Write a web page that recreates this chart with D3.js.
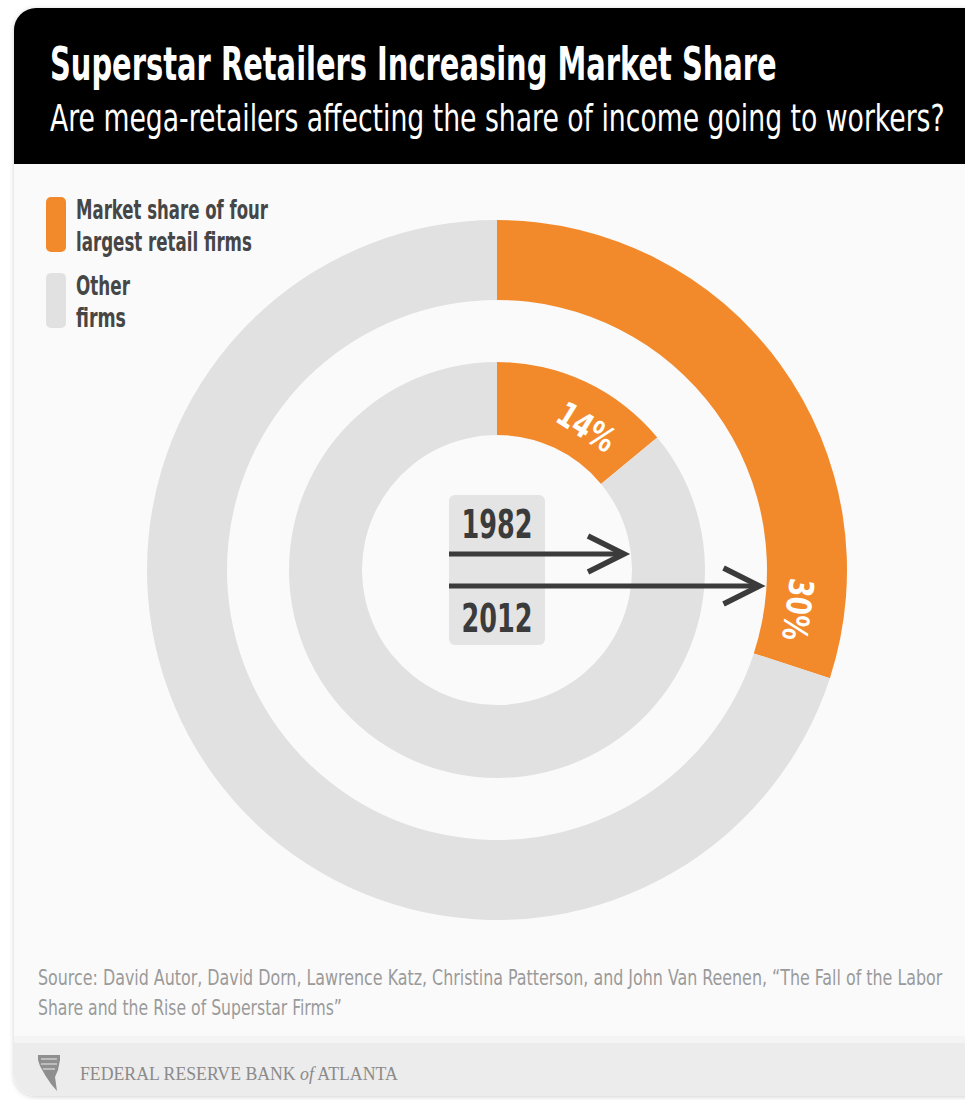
<!DOCTYPE html>
<html>
<head>
<meta charset="utf-8">
<script src="https://cdn.jsdelivr.net/npm/d3@7"></script>
<style>
  html, body { margin: 0; padding: 0; background: #ffffff; }
  svg { display: block; }
</style>
</head>
<body>
<div id="chart"></div>
<script>
// ---------------- DATA ----------------
const title = "Superstar Retailers Increasing Market Share";
const subtitle = "Are mega-retailers affecting the share of income going to workers?";
const years = ["1982", "2012"];
const topFourShare = [14, 30];          // % market share of four largest retail firms
const otherShare = [86, 70];            // % other firms
const categories = ["Market share of four largest retail firms", "Other firms"];
const legendLines = [["Market share of four", "largest retail firms"], ["Other", "firms"]];
const sourceLines = [
  "Source: David Autor, David Dorn, Lawrence Katz, Christina Patterson, and John Van Reenen, \u201cThe Fall of the Labor",
  "Share and the Rise of Superstar Firms\u201d"
];
const footerText = ["FEDERAL RESERVE BANK ", "of", " ATLANTA"];

// ---------------- LAYOUT ----------------
const W = 965, H = 1100;
const cx = 497, cy = 570;
const rings = [ {inner: 135, outer: 208}, {inner: 270, outer: 350} ];
const colors = d3.scaleOrdinal().domain(categories).range(["#f28a2b", "#e1e1e1"]);
const condensed = "'Liberation Sans Narrow', 'DejaVu Sans Condensed', 'Roboto Condensed', sans-serif";

const svg = d3.select("#chart").append("svg").attr("width", W).attr("height", H);

// horizontally squeeze a text so that it spans `width` px (condensed look)
function fit(sel, x, y, width, anchor) {
  sel.attr("x", 0).attr("y", 0).attr("text-anchor", anchor || "start");
  const natural = sel.node().getComputedTextLength();
  const s = width / natural;
  sel.attr("transform", `translate(${x},${y}) scale(${s},1)`);
  return sel;
}

// card shadow + card
const defs = svg.append("defs");
const f = defs.append("filter").attr("id", "sh").attr("x", "-5%").attr("y", "-5%").attr("width", "110%").attr("height", "110%");
f.append("feDropShadow").attr("dx", 0).attr("dy", 1).attr("stdDeviation", 2.5).attr("flood-color", "#000").attr("flood-opacity", 0.18);

const cardX = 14, cardY = 8, cardR = 22, cardRight = 990, cardBottom = 1096;
svg.append("rect").attr("x", cardX).attr("y", cardY).attr("width", cardRight - cardX).attr("height", cardBottom - cardY)
  .attr("rx", cardR).attr("fill", "#fafafa").attr("filter", "url(#sh)");

defs.append("clipPath").attr("id", "cardClip").append("rect")
  .attr("x", cardX).attr("y", cardY).attr("width", cardRight - cardX).attr("height", cardBottom - cardY).attr("rx", cardR);
const clipped = svg.append("g").attr("clip-path", "url(#cardClip)");
clipped.append("rect").attr("x", cardX).attr("y", 1043).attr("width", cardRight - cardX).attr("height", cardBottom - 1043).attr("fill", "#ececec");
clipped.append("rect").attr("x", cardX).attr("y", 1036).attr("width", cardRight - cardX).attr("height", 7).attr("fill", "#f4f4f4");
clipped.append("rect").attr("x", cardX).attr("y", cardY).attr("width", cardRight - cardX).attr("height", 164 - cardY).attr("fill", "#000");

// titles
fit(svg.append("text").text(title)
  .attr("fill", "#fff").attr("font-family", condensed).attr("font-weight", "bold").attr("font-size", 46),
  50, 80, 727);
fit(svg.append("text").text(subtitle)
  .attr("fill", "#fff").attr("font-family", condensed).attr("font-size", 37),
  50, 131, 895);

// ---------------- RINGS ----------------
const pie = d3.pie().sort(null).value(d => d.value);
const g = svg.append("g").attr("transform", `translate(${cx},${cy})`);
const labelAngles = [32, 97.5];   // degrees clockwise from 12 o'clock, where each % label sits
const labelRadius = [169, 304];

years.forEach((yr, i) => {
  const data = [
    {cat: categories[0], value: topFourShare[i]},
    {cat: categories[1], value: otherShare[i]}
  ];
  const arc = d3.arc().innerRadius(rings[i].inner).outerRadius(rings[i].outer);
  const arcs = pie(data);
  g.selectAll(null).data(arcs).enter().append("path")
    .attr("d", arc).attr("fill", d => colors(d.data.cat));

  const ang = labelAngles[i] * Math.PI / 180;
  const r = labelRadius[i];
  const lx = r * Math.sin(ang), ly = -r * Math.cos(ang);
  g.append("text")
    .attr("transform", `translate(${lx},${ly}) rotate(${labelAngles[i]}) scale(0.85,1)`)
    .attr("text-anchor", "middle").attr("dy", "0.36em")
    .attr("fill", "#fff").attr("font-family", condensed).attr("font-weight", "bold")
    .attr("font-size", 34)
    .text(topFourShare[i] + "%");
});

// ---------------- CENTER LABELS + ARROWS ----------------
svg.append("rect").attr("x", 449).attr("y", 495).attr("width", 96).attr("height", 150).attr("rx", 6).attr("fill", "#e4e4e4");
fit(svg.append("text").text(years[0])
  .attr("fill", "#3b3b3b").attr("font-family", condensed).attr("font-weight", "bold").attr("font-size", 39),
  497, 538, 71, "middle");
fit(svg.append("text").text(years[1])
  .attr("fill", "#3b3b3b").attr("font-family", condensed).attr("font-weight", "bold").attr("font-size", 39),
  497, 632, 71, "middle");

const arrowRows = [ {y: 554, ring: 0}, {y: 586, ring: 1} ];
arrowRows.forEach(ar => {
  const tipR = rings[ar.ring].inner - 7;
  const dy = ar.y - cy;
  const tipX = cx + Math.sqrt(tipR * tipR - dy * dy);
  const headL = 36, headH = 18;
  const a = svg.append("g").attr("stroke", "#3b3b3b").attr("fill", "none").attr("stroke-width", 5);
  a.append("line").attr("x1", 449).attr("x2", tipX - 3).attr("y1", ar.y).attr("y2", ar.y);
  a.append("path").attr("d", `M${tipX - headL},${ar.y - headH} L${tipX},${ar.y} L${tipX - headL},${ar.y + headH}`)
    .attr("stroke-linejoin", "miter").attr("stroke-width", 5.5);
});

// ---------------- LEGEND ----------------
const legendWidths = [[192, 176], [54, 50]];
legendLines.forEach((lines, i) => {
  const y0 = i === 0 ? 197 : 273;
  svg.append("rect").attr("x", 46).attr("y", y0).attr("width", 20).attr("height", 55).attr("rx", 5)
    .attr("fill", colors(categories[i]));
  lines.forEach((t, j) => {
    fit(svg.append("text").text(t)
      .attr("fill", "#464646").attr("font-family", condensed).attr("font-weight", "bold").attr("font-size", 26),
      76, y0 + 22 + j * 32, legendWidths[i][j]);
  });
});

// ---------------- SOURCE ----------------
const sourceWidths = [905, 304];
sourceLines.forEach((t, i) => {
  fit(svg.append("text").text(t)
    .attr("fill", "#9a9a9a").attr("font-family", condensed).attr("font-size", 22),
    38, 985 + i * 30, sourceWidths[i]);
});

// ---------------- FOOTER ----------------
const logo = svg.append("g").attr("fill", "#8f8f8f");
logo.append("path").attr("d", "M38,1055 L60,1055 L60,1060 L58,1070 L55,1077 L57,1091 L51,1084 L45,1075 L40,1066 L38,1060 Z");
logo.append("path").attr("d", "M41,1059 L57,1059 M41,1064 L57,1064 M43,1069 L55,1069").attr("stroke", "#ececec").attr("stroke-width", 1.2);
const ft = svg.append("text").attr("fill", "#8a8a8a")
  .attr("font-family", "'Liberation Serif', 'DejaVu Serif', serif").attr("font-size", 18);
ft.append("tspan").text(footerText[0]);
ft.append("tspan").attr("font-style", "italic").text(footerText[1]);
ft.append("tspan").text(footerText[2]);
fit(ft, 80, 1080, 318);
</script>
</body>
</html>
